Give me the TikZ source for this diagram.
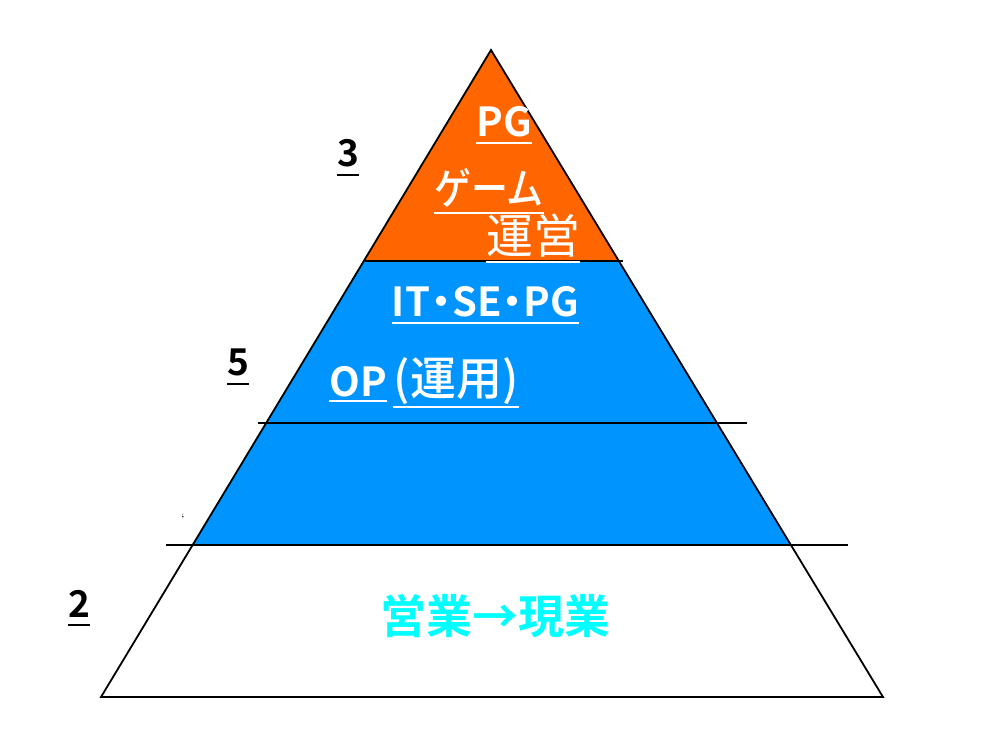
\documentclass[tikz,border=0pt]{standalone}
\usepackage{fontspec}
\usepackage{graphicx}
\newfontfamily\jp{Noto Sans CJK JP}
\newfontfamily\jpm{Noto Sans CJK JP Medium}
\newfontfamily\jpb{Noto Sans CJK JP Bold}
\usetikzlibrary{calc}
\definecolor{pyorange}{RGB}{255,102,0}
\definecolor{pyblue}{RGB}{0,148,255}
\definecolor{pycyan}{RGB}{0,255,255}
\tikzset{
  lbl/.style={inner sep=0pt, anchor=south, text=white},
  num/.style={inner sep=0pt, anchor=south, text=black, font=\jpb\fontsize{37}{40}\selectfont},
  latinb/.style={font=\jpb\fontsize{40}{44}\selectfont},
  uline/.style={line width=2.2pt},
  edge/.style={line width=1.8pt, line join=miter},
  hline/.style={line width=1.6pt}
}
\begin{document}
\begin{tikzpicture}[x=1pt,y=-1pt]
\useasboundingbox (0,0) rectangle (1000,750);
\fill[white] (0,0) rectangle (1000,750);
\coordinate (A) at (491,50);
\coordinate (BL) at (101,697);
\coordinate (BR) at (883,697);
\coordinate (L1) at ($(A)!0.32612!(BL)$);
\coordinate (R1) at ($(A)!0.32612!(BR)$);
\coordinate (L3) at ($(A)!0.76507!(BL)$);
\coordinate (R3) at ($(A)!0.76507!(BR)$);
\fill[pyorange] (A) -- (R1) -- (L1) -- cycle;
\fill[pyblue] (L1) -- (R1) -- (R3) -- (L3) -- cycle;
\draw[edge] (A) -- (BR) -- (BL) -- cycle;
\coordinate (h1a) at (365,261); \coordinate (h1b) at (623,261);
\coordinate (h2a) at (258,423); \coordinate (h2b) at (747,423);
\coordinate (h3a) at (166,545); \coordinate (h3b) at (848,545);
\draw[hline] (h1a) -- (h1b);
\draw[hline] (h2a) -- (h2b);
\draw[hline] (h3a) -- (h3b);
% labels
\node[lbl, latinb] (pg) at (504,137) {PG};
\draw[uline, white] ([yshift=-6]pg.south west) -- ([yshift=-6]pg.south east);
\node[lbl, font=\jpm\fontsize{43}{46}\selectfont] (game) at (489,208) {\scalebox{0.86}[1]{ゲーム}};
\draw[uline, white] ([yshift=-5]game.south west) -- ([yshift=-5]game.south east);
\node[lbl, font=\jp\fontsize{47}{50}\selectfont] (unei) at (533,258) {運営};
\draw[uline, white] ([yshift=-4]unei.south west) -- ([yshift=-4]unei.south east);
\node[lbl, latinb] (itse) at (485.5,317) {IT\kern-9pt・\kern-9pt SE\kern-9pt・\kern-9pt PG};
\draw[uline, white] ([yshift=-6]itse.south west) -- ([yshift=-6]itse.south east);
\node[lbl, latinb] (op) at (358,397) {OP};
\draw[uline, white] ([yshift=-4]op.south west) -- ([yshift=-4]op.south east);
\node[lbl, font=\jpm\fontsize{46}{50}\selectfont] (unyo) at (456,405) {(運用)};
\draw[uline, white] ([yshift=-2]unyo.south west) -- ([yshift=-2]unyo.south east);
\node[num] (n3) at (348,167) {3};
\draw[uline] ([yshift=-8]n3.south west) -- ([yshift=-8]n3.south east);
\node[num] (n5) at (238,376) {5};
\draw[uline] ([yshift=-8]n5.south west) -- ([yshift=-8]n5.south east);
\node[num] (n2) at (79,618) {2};
\draw[uline] ([yshift=-7]n2.south west) -- ([yshift=-7]n2.south east);
\node[inner sep=0pt, anchor=south, text=pycyan, font=\jpb\fontsize{46}{50}\selectfont] (eig) at (495,638) {営業→現業};
\node[inner sep=0pt, font=\fontsize{14}{14}\selectfont] (tick) at (183,519) {`};
\end{tikzpicture}
\end{document}
